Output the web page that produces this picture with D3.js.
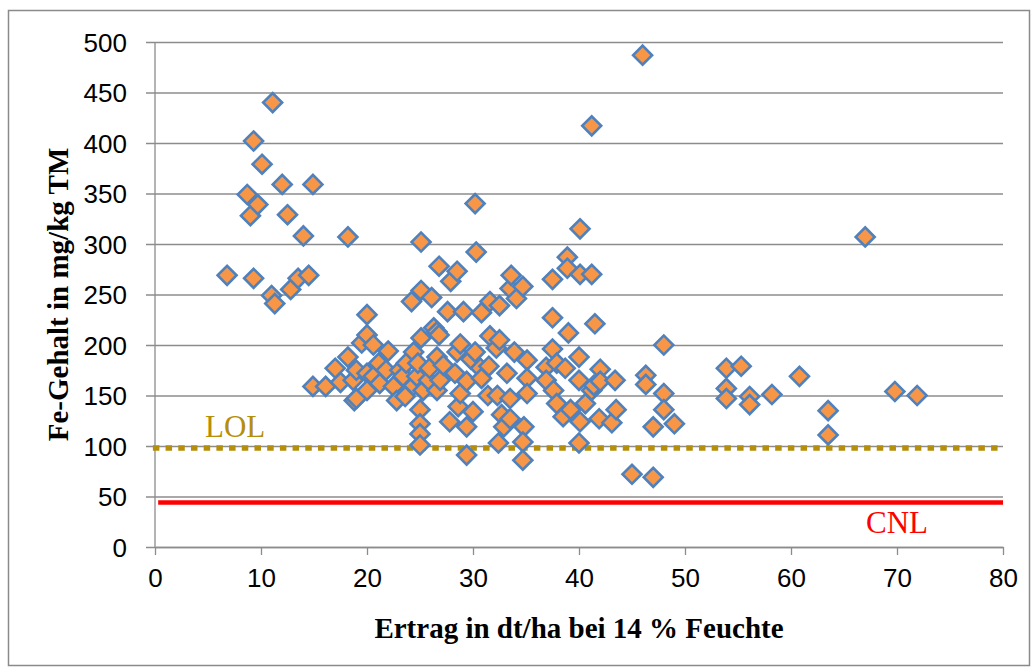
<!DOCTYPE html>
<html>
<head>
<meta charset="utf-8">
<script src="https://cdn.jsdelivr.net/npm/d3@7"></script>
<style>
  html, body { margin: 0; padding: 0; background: #ffffff; }
  svg { display: block; }
</style>
</head>
<body>
<svg id="chart" width="1036" height="671"></svg>
<script>
// Ertrag (dt/ha bei 14 % Feuchte) und Fe-Gehalt (mg/kg TM) je Probe
const messpunkte = [
  [6.8,269],[8.7,349],[9.0,328],[9.3,402],[9.3,266],[9.7,339],[10.1,379],[11.0,249],[11.1,440],
  [11.3,241],[12.0,359],[12.5,329],[12.8,255],[13.5,266],[14.0,308],[14.5,269],[14.9,359],[18.2,307],

  [14.9,159],[16.1,159],[17.0,177],[17.5,163],[18.2,188],[18.7,165],[18.8,145],[19.0,175],[19.0,147],
  [19.5,202],[20.0,230],[20.0,210],[20.0,172],[20.0,155],[20.6,200],[20.6,169],[21.1,182],[21.2,162],
  [21.8,175],[22.0,194],[22.5,159],[22.8,145],[23.1,175],[23.4,169],[23.6,149],[23.7,182],[24.2,243],
  [24.4,193],[24.4,160],[24.7,169],[24.8,182],[25.1,302],[25.1,254],[25.1,207],[25.3,155],[25.0,136],
  [25.0,122],[25.0,112],[25.0,101],[25.8,165],[25.9,177],[26.1,247],[26.3,217],[26.6,213],[26.6,188],
  [26.6,155],[26.8,278],[26.8,210],[26.9,165],

  [27.2,180],[27.6,233],[27.8,124],[27.9,263],[28.3,172],[28.5,273],[28.5,193],[28.6,139],[28.8,201],
  [28.8,152],[29.1,233],[29.4,164],[29.4,119],[29.4,91],[29.8,186],[30.0,134],[30.2,340],[30.2,193],
  [30.3,292],[30.7,177],[30.8,232],[30.8,167],[31.5,179],[31.4,150],[31.6,243],[31.6,209],[32.2,197],
  [32.3,150],[32.4,103],[32.5,239],[32.5,205],[32.7,131],[32.9,119],[33.2,172],[33.5,256],[33.5,147],
  [33.5,127],[33.6,269],[33.9,193],[34.1,246],[34.7,258],[34.8,119],[34.7,104],[34.7,86],[35.1,185],
  [35.1,167],[35.1,152],

  [36.9,178],[36.9,165],[37.5,265],[37.5,227],[37.5,196],[37.6,155],[37.9,182],[37.9,142],[38.5,129],
  [38.7,177],[38.9,287],[38.9,276],[39.0,212],[39.2,136],[40.0,188],[40.0,165],[40.0,103],[40.1,315],
  [40.1,270],[40.1,124],[40.6,142],[41.2,417],[41.2,270],[41.2,155],[41.4,160],[41.5,221],[41.9,127],
  [42.0,176],[42.0,164],[43.1,123],[43.4,165],[43.5,136],

  [45.0,72],[46.0,487],[46.3,170],[46.3,161],[47.0,119],[47.0,69],[48.0,200],[48.0,152],[48.0,136],
  [49.0,122],[53.9,177],[53.9,157],[53.9,147],[55.3,179],[56.1,149],[56.1,141],[58.2,151],[60.8,169],
  [63.5,135],[63.5,111],[67.0,307],[69.8,154],[71.9,150]
];

// Achsenteilung
const xTicks = [0, 10, 20, 30, 40, 50, 60, 70, 80];
const yTicks = [0, 50, 100, 150, 200, 250, 300, 350, 400, 450, 500];

// Grenzwerte
const grenzLOL = 98;
const grenzCNL = 44;

const svg = d3.select("#chart");

// Rahmen des Diagramms
svg.append("rect")
  .attr("x", 8.5).attr("y", 10.5)
  .attr("width", 1021).attr("height", 655)
  .attr("fill", "#ffffff")
  .attr("stroke", "#8a8a8a")
  .attr("stroke-width", 1.5);

const plot = { left: 155, right: 1003, top: 42, bottom: 547 };

const x = d3.scaleLinear().domain([0, 80]).range([plot.left, plot.right]);
const y = d3.scaleLinear().domain([0, 500]).range([plot.bottom, plot.top]);

const gridColor = "#8c8c8c";

// horizontale Gitterlinien mit Teilstrichen links
const yAxis = d3.axisLeft(y)
  .tickValues(yTicks)
  .tickSize(-(plot.right - plot.left) - 9)
  .tickPadding(0)
  .tickFormat(d3.format("d"));

const gy = svg.append("g")
  .attr("transform", `translate(${plot.left - 9},0)`)
  .call(yAxis);
gy.select(".domain").remove();
gy.selectAll(".tick line")
  .attr("x1", 0)
  .attr("x2", plot.right - plot.left + 9)
  .attr("stroke", gridColor)
  .attr("stroke-width", 1.3);
gy.selectAll(".tick text")
  .attr("x", -19)
  .attr("dy", "0.36em")
  .attr("fill", "#000")
  .style("font-family", "'Liberation Sans', Arial, sans-serif")
  .style("font-size", "26px");

// senkrechte Achsenlinie
svg.append("line")
  .attr("x1", plot.left).attr("x2", plot.left)
  .attr("y1", plot.top).attr("y2", plot.bottom)
  .attr("stroke", gridColor).attr("stroke-width", 1.3);

// x-Achse
const xAxis = d3.axisBottom(x)
  .tickValues(xTicks)
  .tickSize(8)
  .tickPadding(14)
  .tickSizeOuter(0);

const gx = svg.append("g")
  .attr("transform", `translate(0,${plot.bottom})`)
  .call(xAxis);
gx.select(".domain").attr("stroke", gridColor).attr("stroke-width", 1.3);
gx.selectAll(".tick line").attr("stroke", gridColor).attr("stroke-width", 1.3);
gx.selectAll(".tick text")
  .attr("fill", "#000")
  .style("font-family", "'Liberation Sans', Arial, sans-serif")
  .style("font-size", "26px");

// LOL-Grenzlinie (gepunktet)
svg.append("line")
  .attr("x1", x(-0.2)).attr("x2", x(80))
  .attr("y1", y(grenzLOL)).attr("y2", y(grenzLOL))
  .attr("stroke", "#b58e0a")
  .attr("stroke-width", 5.5)
  .attr("stroke-dasharray", "6.5 6.2");

// CNL-Grenzlinie
svg.append("line")
  .attr("x1", x(0.3)).attr("x2", x(80))
  .attr("y1", y(grenzCNL)).attr("y2", y(grenzCNL))
  .attr("stroke", "#ff0000")
  .attr("stroke-width", 4.5);

// Messpunkte als Rauten
const raute = d3.symbol().type(d3.symbolSquare).size(180);
svg.append("g")
  .selectAll("path")
  .data(messpunkte)
  .join("path")
  .attr("d", raute)
  .attr("transform", d => `translate(${x(d[0])},${y(d[1])}) rotate(45)`)
  .attr("fill", "#f79646")
  .attr("stroke", "#4f81bd")
  .attr("stroke-width", 2.6);

// Beschriftung der Grenzlinien
svg.append("text")
  .attr("x", 205).attr("y", 437)
  .attr("fill", "#b58e0a")
  .style("font-family", "'Liberation Serif', 'Times New Roman', serif")
  .style("font-size", "31px")
  .text("LOL");

svg.append("text")
  .attr("x", 866).attr("y", 533)
  .attr("fill", "#ff0000")
  .style("font-family", "'Liberation Serif', 'Times New Roman', serif")
  .style("font-size", "31px")
  .text("CNL");

// Achsentitel
svg.append("text")
  .attr("x", (plot.left + plot.right) / 2)
  .attr("y", 638)
  .attr("text-anchor", "middle")
  .style("font-family", "'Liberation Serif', 'Times New Roman', serif")
  .style("font-weight", "bold")
  .style("font-size", "29px")
  .text("Ertrag in dt/ha bei 14 % Feuchte");

svg.append("text")
  .attr("transform", `translate(68,${(plot.top + plot.bottom) / 2}) rotate(-90)`)
  .attr("text-anchor", "middle")
  .style("font-family", "'Liberation Serif', 'Times New Roman', serif")
  .style("font-weight", "bold")
  .style("font-size", "29px")
  .text("Fe-Gehalt in mg/kg TM");
</script>
</body>
</html>
